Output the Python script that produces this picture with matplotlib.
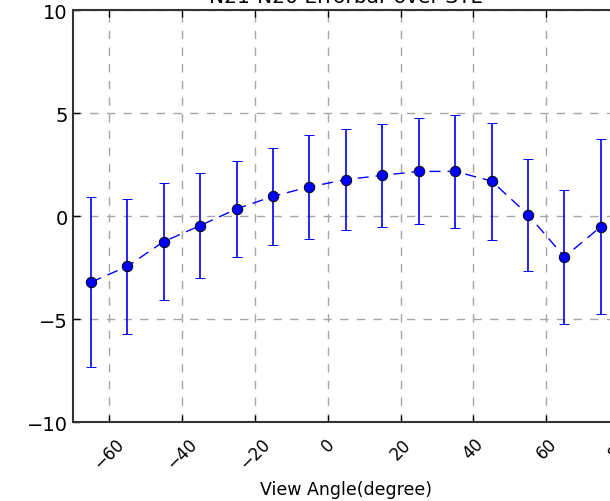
import matplotlib
matplotlib.use("Agg")
import matplotlib.pyplot as plt

# View angles (degrees), mean difference and symmetric error per angle
angles = [-65, -55, -45, -35, -25, -15, -5, 5, 15, 25, 35, 45, 55, 65, 75]
means = [-3.21, -2.44, -1.24, -0.46, 0.35, 0.96, 1.42, 1.77, 1.98, 2.17, 2.17, 1.70, 0.07, -1.98, -0.51]
errors = [4.12, 3.26, 2.85, 2.56, 2.33, 2.34, 2.54, 2.46, 2.50, 2.57, 2.74, 2.84, 2.71, 3.26, 4.23]

x_ticks = [-60, -40, -20, 0, 20, 40, 60, 80]
y_ticks = [-10, -5, 0, 5, 10]

plt.rcParams["font.family"] = ["DejaVu Sans"]

fig = plt.figure(figsize=(6.10, 5.02), dpi=100)
fig.patch.set_facecolor("white")
ax = fig.add_axes([0.119, 0.157, 0.896, 0.821])

ax.errorbar(angles, means, yerr=errors, fmt="o", color="blue", ecolor="blue",
            markerfacecolor="blue", markeredgecolor="black", markeredgewidth=0.7,
            markersize=7.5, elinewidth=1.2, capsize=3.6, capthick=1.2, zorder=3)
ax.plot(angles, means, color="blue", linestyle=(0, (8, 5)), linewidth=1.0, zorder=2)

ax.set_xlim(-70, 80)
ax.set_ylim(-10, 10)
ax.set_xticks(x_ticks)
ax.set_yticks(y_ticks)
ax.tick_params(direction="in", top=True, right=True, length=5, width=1, labelsize=14)
ax.tick_params(axis="x", pad=9)
for lbl in ax.get_xticklabels():
    lbl.set_rotation(45)
    lbl.set_fontsize(12)

ax.grid(True, color="#a6a6a6", linestyle=(0, (6, 6)), linewidth=1.0)
ax.set_axisbelow(True)
for s in ax.spines.values():
    s.set_linewidth(1.5)
    s.set_color("#333333")

ax.set_xlabel("View Angle(degree)", fontsize=12.5, labelpad=6)
ax.set_title("N21-N20 Errorbar over STL", fontsize=14.5)

fig.savefig("out.png", dpi=100, facecolor="white")
